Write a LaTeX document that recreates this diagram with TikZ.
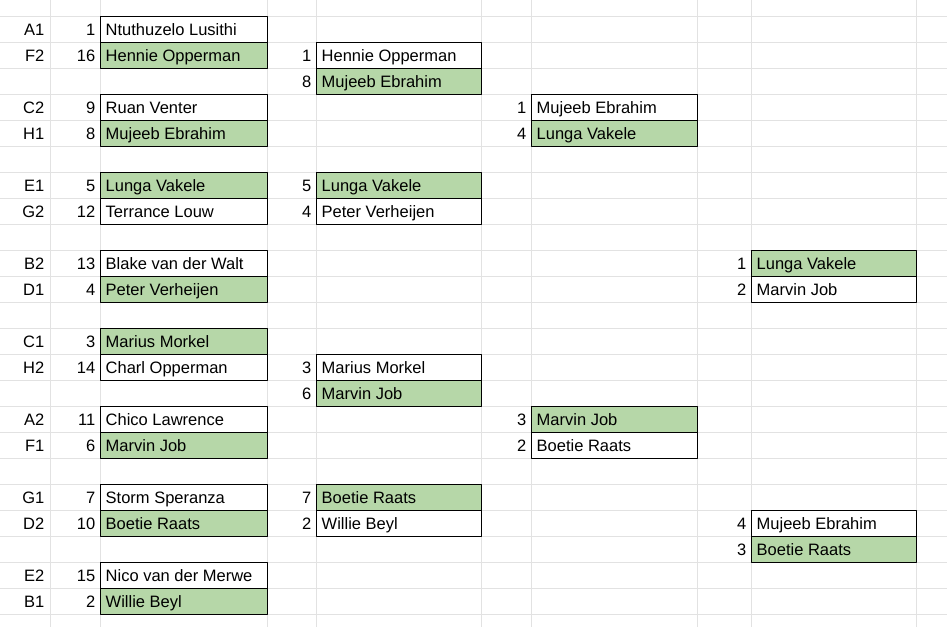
\documentclass[tikz,border=0pt]{standalone}
\usepackage{fontspec}
\setmainfont{Liberation Sans}
\definecolor{winner}{HTML}{B6D7A8}
\definecolor{gridgray}{HTML}{E2E2E2}
\begin{document}
\begin{tikzpicture}[x=1pt,y=-1pt,line join=round,font=\fontsize{16.5}{18}\selectfont,
	cell/.style={inner sep=0pt,anchor=base west},
	seed/.style={inner sep=0pt,anchor=base east},
	slot/.style={draw=black,line width=1pt},
	sheet/.style={gridgray,line width=1pt}]
	\useasboundingbox (0,0) rectangle (947,627);
	% sheet grid
	\foreach \y in {16,42,...,614}
	\draw[sheet] (0,\y)--(947,\y);
	\foreach \x in {50,100,267,316,481,531,697,751,916}
	\draw[sheet] (\x,0)--(\x,627);
	% pool labels
	\foreach \r/\g in {0/A1,1/F2,3/C2,4/H1,6/E1,7/G2,9/B2,10/D1,12/C1,13/H2,15/A2,16/F1,18/G1,19/D2,21/E2,22/B1}
	\node[seed] (g\r) at (44.5,{35+26*\r}) {\g};
	% matches: left x / width / top row / seed, name, fill (top) / seed, name, fill (bottom)
	\foreach \x/\w/\r/\sa/\na/\fa/\sb/\nb/\fb in {
		100/167/0/1/Ntuthuzelo Lusithi/white/16/Hennie Opperman/winner,
		100/167/3/9/Ruan Venter/white/8/Mujeeb Ebrahim/winner,
		100/167/6/5/Lunga Vakele/winner/12/Terrance Louw/white,
		100/167/9/13/Blake van der Walt/white/4/Peter Verheijen/winner,
		100/167/12/3/Marius Morkel/winner/14/Charl Opperman/white,
		100/167/15/11/Chico Lawrence/white/6/Marvin Job/winner,
		100/167/18/7/Storm Speranza/white/10/Boetie Raats/winner,
		100/167/21/15/Nico van der Merwe/white/2/Willie Beyl/winner,
		316/165/1/1/Hennie Opperman/white/8/Mujeeb Ebrahim/winner,
		316/165/6/5/Lunga Vakele/winner/4/Peter Verheijen/white,
		316/165/13/3/Marius Morkel/white/6/Marvin Job/winner,
		316/165/18/7/Boetie Raats/winner/2/Willie Beyl/white,
		531/166/3/1/Mujeeb Ebrahim/white/4/Lunga Vakele/winner,
		531/166/15/3/Marvin Job/winner/2/Boetie Raats/white,
		751/165/9/1/Lunga Vakele/winner/2/Marvin Job/white,
		751/165/19/4/Mujeeb Ebrahim/white/3/Boetie Raats/winner}
	{
		\fill[\fa] (\x,{16+26*\r}) rectangle ++(\w,26);
		\fill[\fb] (\x,{42+26*\r}) rectangle ++(\w,26);
		\draw[slot] (\x,{16+26*\r}) rectangle ++(\w,52);
		\draw[slot] (\x,{42+26*\r}) -- ++(\w,0);
		\node[seed] (s\x-\r) at (\x-4.5,{35+26*\r}) {\sa};
		\node[cell] (n\x-\r) at (\x+5.5,{35+26*\r}) {\na};
		\node[seed] (t\x-\r) at (\x-4.5,{61+26*\r}) {\sb};
		\node[cell] (m\x-\r) at (\x+5.5,{61+26*\r}) {\nb};
	}
\end{tikzpicture}
\end{document}
